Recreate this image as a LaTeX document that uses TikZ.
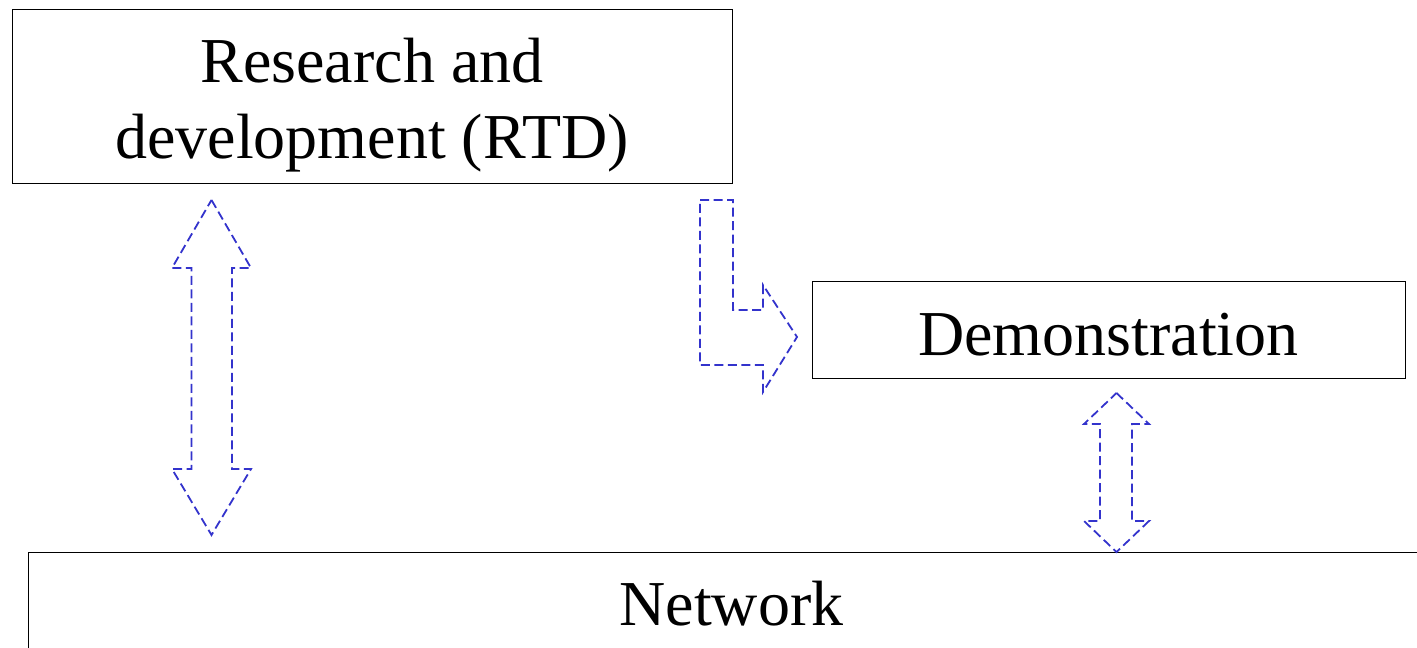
\documentclass[tikz,border=0pt]{standalone}
\usepackage{fontspec}
\setmainfont{Liberation Serif}
\definecolor{arrowblue}{RGB}{51,51,204}
\begin{document}
\begin{tikzpicture}[x=1pt,y=-1pt,
  box/.style={draw=black, line width=1.3pt, inner sep=0pt, anchor=north west},
  label/.style={font=\fontsize{64}{76}\selectfont, inner sep=0pt, anchor=base},
  blockarrow/.style={draw=arrowblue, line width=1.8pt, dash pattern=on 9pt off 4.5pt, line join=miter}]
\useasboundingbox (0,0) rectangle (1417,648);
\clip (0,0) rectangle (1417,648);

% boxes
\node[box, minimum width=720pt, minimum height=174pt] (rtd) at (12,9) {};
\node[box, minimum width=593pt, minimum height=97pt] (demo) at (812,281) {};
\node[box, minimum width=1407pt, minimum height=200pt] (net) at (28,552) {};

% labels
\node[label] (rtdA) at (372,82) {Research and};
\node[label] (rtdB) at (372,158) {development (RTD)};
\node[label] (demoT) at (1108.5,355) {Demonstration};
\node[label] (netT) at (731.5,625) {Network};

% end points of the block arrows
\coordinate (lt) at (211.5,200);
\coordinate (lb) at (211.5,535);
\coordinate (rt) at (1116.5,393);
\coordinate (rb) at (1116.5,552);
\coordinate (ls) at (700,200);

% RTD <-> Network
\draw[blockarrow] (lt) -- ++(39.5,68) -- ++(-19,0) -- ++(0,201) -- ++(19,0)
  -- (lb) -- ++(-39.5,-66) -- ++(19.5,0) -- ++(0,-201) -- ++(-19.5,0) -- cycle;

% RTD -> Demonstration
\draw[blockarrow] (ls) -- ++(33,0) -- ++(0,110) -- ++(30,0) -- ++(0,-25)
  -- ++(34,52) -- ++(-34,55) -- ++(0,-27) -- ++(-63,0) -- cycle;

% Demonstration <-> Network
\draw[blockarrow] (rt) -- ++(32.5,31) -- ++(-17,0) -- ++(0,97) -- ++(17,0)
  -- (rb) -- ++(-32.5,-31) -- ++(16,0) -- ++(0,-97) -- ++(-16,0) -- cycle;
\end{tikzpicture}
\end{document}
